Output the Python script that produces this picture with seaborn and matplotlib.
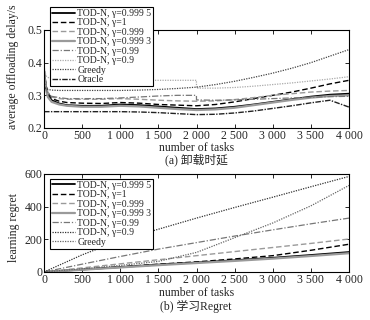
import numpy as np
import pandas as pd
import matplotlib
matplotlib.use("Agg")
import matplotlib.pyplot as plt
import seaborn as sns

# ---------------- data ----------------
x_delay = [0, 25, 50, 100, 200, 300, 500, 750, 1000, 1250, 1500, 1750, 1999,
           2000, 2250, 2500, 2750, 3000, 3250, 3500, 3750, 4000]
d_g09995 = [0.38, 0.33, 0.30, 0.285, 0.275, 0.27, 0.268, 0.268, 0.272, 0.27, 0.266, 0.262, 0.258,
            0.258, 0.26, 0.265, 0.272, 0.28, 0.288, 0.296, 0.302, 0.305]
d_g1 = [0.38, 0.33, 0.31, 0.29, 0.282, 0.278, 0.276, 0.275, 0.278, 0.276, 0.272, 0.27, 0.268,
        0.268, 0.272, 0.28, 0.29, 0.30, 0.31, 0.322, 0.335, 0.346]
d_g0999 = [0.37, 0.33, 0.31, 0.295, 0.29, 0.288, 0.288, 0.288, 0.29, 0.288, 0.285, 0.283, 0.282,
           0.282, 0.283, 0.287, 0.293, 0.30, 0.305, 0.31, 0.313, 0.315]
d_g09993 = [0.37, 0.32, 0.295, 0.28, 0.272, 0.268, 0.265, 0.265, 0.268, 0.266, 0.262, 0.258, 0.255,
            0.255, 0.257, 0.262, 0.27, 0.278, 0.286, 0.293, 0.298, 0.30]
d_g099 = [0.36, 0.32, 0.305, 0.297, 0.293, 0.29, 0.29, 0.29, 0.292, 0.295, 0.298, 0.30, 0.30,
          0.286, 0.285, 0.286, 0.288, 0.29, 0.292, 0.294, 0.296, 0.297]
d_g09 = [0.39, 0.36, 0.355, 0.35, 0.35, 0.348, 0.347, 0.346, 0.346, 0.346, 0.346, 0.346, 0.346,
         0.322, 0.322, 0.324, 0.328, 0.333, 0.338, 0.344, 0.35, 0.357]
d_greedy = [0.33, 0.32, 0.318, 0.316, 0.315, 0.315, 0.315, 0.315, 0.315, 0.316, 0.318, 0.321, 0.325,
            0.325, 0.333, 0.343, 0.355, 0.368, 0.383, 0.40, 0.42, 0.44]
d_oracle = [0.25, 0.25, 0.25, 0.25, 0.25, 0.25, 0.25, 0.25, 0.25, 0.249, 0.247, 0.244, 0.241,
            0.241, 0.242, 0.246, 0.252, 0.26, 0.268, 0.277, 0.285, 0.264]

x_regret = [0, 500, 1000, 1500, 2000, 2500, 3000, 3500, 4000]
r_g09995 = [0, 15, 30, 45, 58, 72, 87, 104, 122]
r_g1 = [0, 16, 32, 48, 62, 80, 100, 133, 170]
r_g0999 = [0, 25, 50, 75, 100, 125, 150, 175, 202]
r_g09993 = [0, 14, 28, 42, 55, 68, 82, 98, 115]
r_g099 = [0, 48, 95, 140, 180, 220, 258, 295, 330]
r_g09 = [0, 105, 195, 262, 330, 395, 458, 522, 585]
r_greedy = [0, 20, 40, 65, 120, 210, 300, 405, 530]

labels = ["TOD-N, γ=0.999 5", "TOD-N, γ=1", "TOD-N, γ=0.999",
          "TOD-N, γ=0.999 3", "TOD-N, γ=0.99", "TOD-N, γ=0.9",
          "Greedy", "Oracle"]
x_ticks = [0, 500, 1000, 1500, 2000, 2500, 3000, 3500, 4000]
x_ticklabels = ["0", "500", "1 000", "1 500", "2 000", "2 500", "3 000", "3 500", "4 000"]
y1_ticks = [0.2, 0.3, 0.4, 0.5]
y1_ticklabels = ["0.2", "0.3", "0.4", "0.5"]
y2_ticks = [0, 200, 400, 600]
y2_ticklabels = ["0", "200", "400", "600"]

# ---------------- style ----------------
sns.set_style("ticks")
plt.rcParams["font.family"] = ["Liberation Serif", "Noto Sans CJK SC"]
plt.rcParams["axes.linewidth"] = 0.8
plt.rcParams["xtick.direction"] = "in"
plt.rcParams["ytick.direction"] = "in"
plt.rcParams["xtick.major.size"] = 3
plt.rcParams["ytick.major.size"] = 3

styles_top = [
    dict(color="black", lw=1.3, ls="-"),
    dict(color="black", lw=1.0, ls=(0, (4, 2))),
    dict(color="#9a9a9a", lw=1.0, ls=(0, (4, 2))),
    dict(color="#9a9a9a", lw=1.6, ls="-"),
    dict(color="#777777", lw=0.9, ls=(0, (5, 1.5, 1, 1.5))),
    dict(color="#aaaaaa", lw=0.9, ls=(0, (1, 1))),
    dict(color="#444444", lw=0.9, ls=(0, (1, 1))),
    dict(color="#222222", lw=1.0, ls=(0, (4, 1, 1, 1))),
]
styles_bot = [
    dict(color="black", lw=1.3, ls="-"),
    dict(color="black", lw=1.0, ls=(0, (4, 2))),
    dict(color="#9a9a9a", lw=1.0, ls=(0, (4, 2))),
    dict(color="#9a9a9a", lw=1.6, ls="-"),
    dict(color="#777777", lw=0.9, ls=(0, (5, 1.5, 1, 1.5))),
    dict(color="#333333", lw=0.9, ls=(0, (1, 1))),
    dict(color="#666666", lw=0.9, ls=(0, (1, 1))),
]

fig = plt.figure(figsize=(3.7, 3.2), dpi=100)
ax1 = fig.add_axes([44 / 370, 1 - 128 / 320, 305 / 370, 98 / 320])
ax2 = fig.add_axes([44 / 370, 1 - 272 / 320, 305 / 370, 98 / 320])

delay_series = [d_g09995, d_g1, d_g0999, d_g09993, d_g099, d_g09, d_greedy, d_oracle]
for lab, ys, st in zip(labels, delay_series, styles_top):
    sns.lineplot(x=x_delay, y=ys, ax=ax1, label=lab, color=st["color"],
                 linewidth=st["lw"], linestyle=st["ls"])

regret_series = [r_g09995, r_g1, r_g0999, r_g09993, r_g099, r_g09, r_greedy]
for lab, ys, st in zip(labels[:7], regret_series, styles_bot):
    sns.lineplot(x=x_regret, y=ys, ax=ax2, label=lab, color=st["color"],
                 linewidth=st["lw"], linestyle=st["ls"])

fs = 8.5
for ax, yt, ytl, ylab, ylim, xly, yly in [
        (ax1, y1_ticks, y1_ticklabels, "average offloading delay/s", (0.2, 0.5), -0.2, 0.63),
        (ax2, y2_ticks, y2_ticklabels, "learning regret", (0, 600), -0.214, 0.45)]:
    ax.set_xlim(0, 4000)
    ax.set_ylim(*ylim)
    ax.set_xticks(x_ticks)
    ax.set_xticklabels(x_ticklabels, fontsize=fs)
    ax.set_yticks(yt)
    ax.set_yticklabels(ytl, fontsize=fs)
    ax.tick_params(top=True, right=True, width=0.7, pad=1.2)
    ax.set_xlabel("number of tasks", fontsize=fs)
    ax.xaxis.set_label_coords(0.5, xly)
    ax.xaxis.label.set_va("center")
    ax.set_ylabel(ylab, fontsize=fs)
    ax.yaxis.set_label_coords(-0.1, yly)
    ax.yaxis.label.set_va("center")
    for s in ax.spines.values():
        s.set_color("black")

leg_kw = dict(loc="upper left", fontsize=7.0, frameon=True, fancybox=False,
              edgecolor="black", framealpha=1, borderpad=0.2, labelspacing=0.05,
              handlelength=2.4, handletextpad=0.2, borderaxespad=0)
l1 = ax1.legend(bbox_to_anchor=(0.02, 1.235), **leg_kw)
l2 = ax2.legend(bbox_to_anchor=(0.02, 0.95), **leg_kw)
for l in (l1, l2):
    l.get_frame().set_linewidth(0.8)
    l.set_zorder(5)

fig.text(196 / 370, 1 - 159.5 / 320, "(a) 卸载时延", ha="center", va="center", fontsize=fs)
fig.text(196 / 370, 1 - 306 / 320, "(b) 学习Regret", ha="center", va="center", fontsize=fs)

fig.savefig("out.png", dpi=100)
